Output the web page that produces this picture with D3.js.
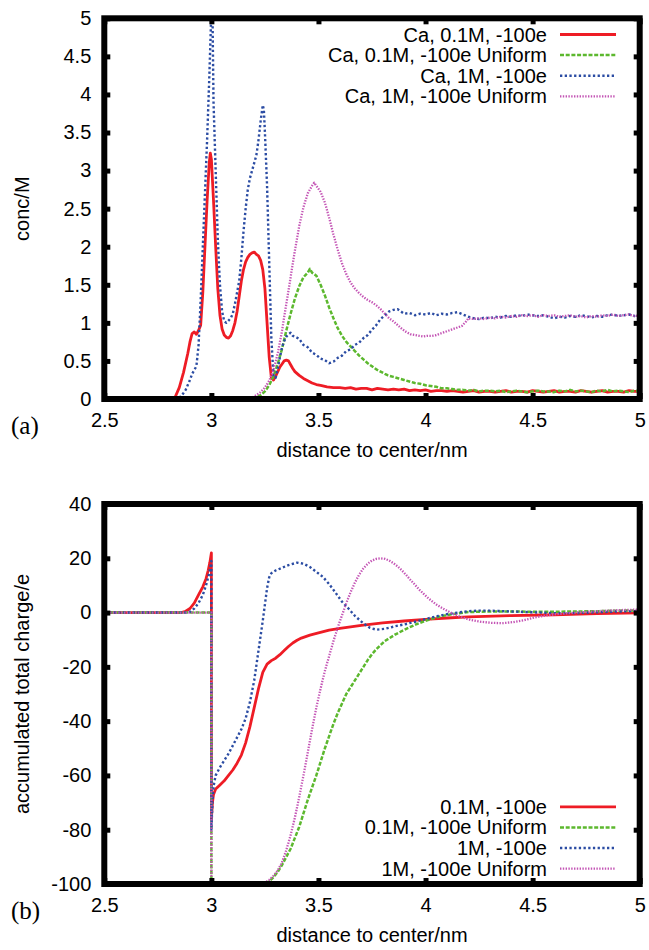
<!DOCTYPE html>
<html>
<head>
<meta charset="utf-8">
<script src="https://cdn.jsdelivr.net/npm/d3@7"></script>
<style>
  body { margin: 0; background: #fff; }
  svg text { font-family: "Liberation Sans", Arial, Helvetica, sans-serif; font-size: 20px; fill: #000; }
</style>
</head>
<body>
<div id="chart"></div>
<script>
// ---- data ----
const xTicks = [2.5, 3, 3.5, 4, 4.5, 5]
const concTicks = [0, 0.5, 1, 1.5, 2, 2.5, 3, 3.5, 4, 4.5, 5]
const chargeTicks = [-100, -80, -60, -40, -20, 0, 20, 40]

const concLabels = ["Ca, 0.1M, -100e", "Ca, 0.1M, -100e Uniform", "Ca, 1M, -100e", "Ca, 1M, -100e Uniform"]
const chargeLabels = ["0.1M, -100e", "0.1M, -100e Uniform", "1M, -100e", "1M, -100e Uniform"]

// (a) concentration profiles, [distance nm, conc M]
const concLow = [[2.5,0],[2.81,0],[2.83,0.02],[2.85,0.15],[2.87,0.35],[2.89,0.6],[2.9,0.75],[2.91,0.86],[2.92,0.88],[2.93,0.85],[2.94,0.9],[2.95,0.97],
  [2.96,1.4],[2.97,2.0],[2.98,2.6],[2.99,3.1],[2.995,3.23],[3.0,3.15],[3.01,2.6],[3.02,2.0],[3.03,1.45],[3.04,1.1],[3.05,0.92],[3.06,0.84],[3.07,0.81],
  [3.08,0.8],[3.09,0.83],[3.1,0.9],[3.11,1.0],[3.12,1.15],[3.13,1.35],[3.14,1.55],[3.15,1.7],[3.16,1.8],[3.17,1.86],[3.18,1.9],[3.19,1.92],[3.2,1.93],
  [3.21,1.9],[3.22,1.88],[3.23,1.82],[3.24,1.7],[3.25,1.45],[3.26,1.0],[3.27,0.55],[3.28,0.28],[3.29,0.25],[3.3,0.3],[3.31,0.36],[3.32,0.42],[3.33,0.46],
  [3.34,0.5],[3.35,0.51],[3.36,0.5],[3.37,0.45],[3.38,0.4],[3.39,0.36],[3.41,0.31],[3.43,0.27],[3.45,0.24],[3.47,0.21],[3.49,0.19],[3.51,0.18],[3.54,0.16],
  [3.57,0.15],[3.6,0.15],[3.625,0.14],[3.65,0.15],[3.675,0.13],[3.7,0.14],[3.725,0.14],[3.75,0.12],[3.775,0.14],[3.8,0.13],[3.825,0.12],[3.85,0.13],
  [3.875,0.12],[3.9,0.13],[3.925,0.11],[3.95,0.12],[3.975,0.11],[4.0,0.12],[4.025,0.1],[4.05,0.11],[4.075,0.11],[4.1,0.1],[4.125,0.11],[4.15,0.1],
  [4.175,0.09],[4.2,0.1],[4.225,0.11],[4.25,0.09],[4.275,0.1],[4.3,0.1],[4.325,0.09],[4.35,0.1],[4.375,0.11],[4.4,0.09],[4.425,0.1],[4.45,0.1],
  [4.475,0.09],[4.5,0.11],[4.525,0.1],[4.55,0.09],[4.575,0.1],[4.6,0.11],[4.625,0.09],[4.65,0.1],[4.675,0.1],[4.7,0.09],[4.725,0.11],[4.75,0.1],
  [4.775,0.09],[4.8,0.1],[4.825,0.11],[4.85,0.09],[4.875,0.1],[4.9,0.1],[4.925,0.09],[4.95,0.11],[4.975,0.1],[5.0,0.1]]

const concLowUniform = [[2.5,0],[3.19,0],[3.21,0.02],[3.23,0.05],[3.25,0.1],[3.27,0.18],[3.29,0.3],[3.31,0.46],[3.33,0.66],[3.35,0.9],[3.37,1.12],
  [3.39,1.32],[3.41,1.48],[3.43,1.6],[3.45,1.66],[3.46,1.71],[3.47,1.66],[3.49,1.62],[3.51,1.5],[3.53,1.36],[3.55,1.2],[3.57,1.06],[3.59,0.93],
  [3.61,0.83],[3.63,0.75],[3.65,0.69],[3.67,0.63],[3.69,0.57],[3.71,0.52],[3.73,0.47],[3.75,0.43],[3.77,0.39],[3.79,0.36],[3.81,0.33],[3.825,0.31],
  [3.85,0.29],[3.875,0.27],[3.9,0.25],[3.925,0.23],[3.95,0.21],[3.975,0.2],[4.0,0.18],[4.025,0.17],[4.05,0.16],[4.075,0.14],[4.1,0.14],[4.125,0.13],
  [4.15,0.12],[4.175,0.12],[4.2,0.11],[4.225,0.12],[4.25,0.1],[4.275,0.11],[4.3,0.11],[4.325,0.1],[4.35,0.11],[4.375,0.09],[4.4,0.1],[4.425,0.11],
  [4.45,0.1],[4.475,0.09],[4.5,0.1],[4.525,0.11],[4.55,0.1],[4.575,0.1],[4.6,0.09],[4.625,0.11],[4.65,0.1],[4.675,0.12],[4.7,0.1],[4.725,0.11],
  [4.75,0.1],[4.775,0.09],[4.8,0.11],[4.825,0.1],[4.85,0.12],[4.875,0.1],[4.9,0.11],[4.925,0.1],[4.95,0.09],[4.975,0.11],[5.0,0.1]]

const concHigh = [[2.5,0],[2.84,0],[2.86,0.04],[2.88,0.12],[2.9,0.25],[2.91,0.33],[2.92,0.38],[2.93,0.43],[2.94,0.7],[2.95,1.3],[2.96,2.0],[2.97,2.7],
  [2.98,3.4],[2.99,4.2],[3.0,5.1],[3.005,5.1],[3.01,3.9],[3.02,3.0],[3.03,2.1],[3.04,1.5],[3.05,1.15],[3.06,1.02],[3.07,1.0],[3.08,1.03],[3.09,1.06],
  [3.1,1.12],[3.11,1.25],[3.12,1.4],[3.13,1.55],[3.14,1.85],[3.15,2.2],[3.16,2.5],[3.17,2.75],[3.18,2.9],[3.19,3.0],[3.2,3.1],[3.21,3.2],[3.22,3.4],
  [3.23,3.65],[3.24,3.86],[3.245,3.8],[3.25,3.5],[3.26,2.8],[3.27,1.8],[3.28,0.8],[3.29,0.3],[3.3,0.28],[3.31,0.4],[3.32,0.55],[3.33,0.68],[3.34,0.76],
  [3.35,0.82],[3.36,0.85],[3.37,0.87],[3.38,0.83],[3.39,0.82],[3.41,0.79],[3.43,0.71],[3.45,0.68],[3.47,0.61],[3.49,0.58],[3.51,0.53],[3.53,0.51],
  [3.55,0.47],[3.57,0.49],[3.59,0.54],[3.61,0.57],[3.63,0.63],[3.65,0.65],[3.67,0.71],[3.69,0.74],[3.71,0.8],[3.73,0.84],[3.75,0.91],[3.77,0.97],
  [3.79,1.05],[3.81,1.1],[3.83,1.15],[3.85,1.17],[3.87,1.18],[3.89,1.14],[3.9,1.12],[3.925,1.13],[3.95,1.1],[3.975,1.12],[4.0,1.11],[4.025,1.13],
  [4.05,1.1],[4.075,1.12],[4.1,1.11],[4.125,1.13],[4.15,1.14],[4.175,1.11],[4.2,1.08],[4.225,1.06],[4.25,1.05],[4.275,1.07],[4.3,1.06],[4.325,1.08],
  [4.35,1.07],[4.375,1.09],[4.4,1.08],[4.425,1.1],[4.45,1.09],[4.475,1.11],[4.5,1.1],[4.525,1.09],[4.55,1.1],[4.575,1.08],[4.6,1.06],[4.625,1.08],
  [4.65,1.07],[4.675,1.09],[4.7,1.08],[4.725,1.1],[4.75,1.09],[4.775,1.07],[4.8,1.09],[4.825,1.08],[4.85,1.1],[4.875,1.11],[4.9,1.09],[4.925,1.1],
  [4.95,1.11],[4.975,1.09],[5.0,1.1]]

const concHighUniform = [[2.5,0],[3.17,0],[3.19,0.02],[3.21,0.05],[3.23,0.09],[3.25,0.15],[3.27,0.24],[3.29,0.38],[3.31,0.6],[3.33,0.9],[3.35,1.25],
  [3.37,1.6],[3.39,1.95],[3.41,2.27],[3.43,2.52],[3.45,2.7],[3.47,2.8],[3.48,2.84],[3.49,2.8],[3.51,2.72],[3.53,2.58],[3.55,2.38],[3.57,2.16],
  [3.59,1.96],[3.61,1.78],[3.63,1.64],[3.65,1.53],[3.67,1.45],[3.69,1.39],[3.71,1.34],[3.73,1.3],[3.75,1.27],[3.77,1.23],[3.79,1.18],[3.81,1.12],
  [3.83,1.06],[3.85,1.02],[3.87,0.97],[3.89,0.92],[3.91,0.88],[3.93,0.85],[3.95,0.84],[3.97,0.83],[3.99,0.82],[4.01,0.83],[4.03,0.83],[4.05,0.84],
  [4.07,0.86],[4.09,0.88],[4.11,0.9],[4.13,0.92],[4.15,0.94],[4.17,0.96],[4.19,1.02],[4.2,1.06],[4.225,1.05],[4.25,1.06],[4.275,1.05],[4.3,1.07],
  [4.325,1.06],[4.35,1.08],[4.375,1.07],[4.4,1.09],[4.425,1.08],[4.45,1.1],[4.475,1.09],[4.5,1.1],[4.525,1.08],[4.55,1.1],[4.575,1.09],[4.6,1.1],
  [4.625,1.08],[4.65,1.09],[4.675,1.1],[4.7,1.08],[4.725,1.09],[4.75,1.07],[4.775,1.09],[4.8,1.08],[4.825,1.1],[4.85,1.09],[4.875,1.11],[4.9,1.09],
  [4.925,1.1],[4.95,1.11],[4.975,1.09],[5.0,1.1]]

// (b) accumulated total charge, [distance nm, charge e]
const chargeLow = [[2.5,0],[2.86,0],[2.88,0.5],[2.9,1.5],[2.92,3.5],[2.94,6.5],[2.96,9.5],[2.975,12.5],[2.985,15.5],[2.993,18.5],[3.0,22],[3.0,-76],
  [3.005,-70],[3.01,-67],[3.02,-65],[3.04,-63.5],[3.06,-62],[3.08,-60],[3.1,-58],[3.12,-55.5],[3.14,-52.5],[3.16,-48],[3.18,-42],[3.2,-35],[3.22,-28],
  [3.24,-22],[3.26,-19],[3.28,-17.7],[3.3,-16.8],[3.32,-15.5],[3.34,-14],[3.36,-12.5],[3.38,-11.2],[3.4,-10.2],[3.42,-9.4],[3.46,-8.3],[3.5,-7.5],
  [3.55,-6.5],[3.6,-5.8],[3.7,-4.7],[3.8,-3.8],[3.9,-3.1],[4.0,-2.5],[4.1,-2.0],[4.2,-1.6],[4.4,-1.1],[4.6,-0.8],[4.8,-0.4],[5.0,-0.1]]

const chargeLowUniform = [[2.5,0],[3.0,0],[3.0,-100],[3.25,-100],[3.27,-99],[3.29,-97.5],[3.31,-95.5],[3.33,-93],[3.35,-90],[3.37,-87],[3.39,-83],
  [3.41,-79],[3.43,-74],[3.45,-69],[3.47,-64.5],[3.49,-60],[3.51,-55],[3.53,-50],[3.55,-45.5],[3.57,-41],[3.59,-37],[3.61,-33.5],[3.63,-30],
  [3.65,-27.5],[3.67,-25],[3.69,-22.5],[3.71,-20],[3.73,-17.5],[3.75,-15.3],[3.77,-13.5],[3.79,-12],[3.81,-10.5],[3.86,-8],[3.91,-6],[3.96,-4.2],
  [4.0,-3],[4.05,-1.8],[4.1,-0.9],[4.15,-0.3],[4.2,0.2],[4.3,0.4],[4.4,0.4],[4.5,0.3],[4.6,0.3],[4.7,0.4],[4.8,0.5],[4.9,0.7],[5.0,0.8]]

const chargeHigh = [[2.5,0],[2.88,0],[2.9,0.3],[2.92,1.5],[2.94,3.5],[2.96,6.5],[2.975,10],[2.99,14.5],[3.0,19],[3.0,-80],[3.005,-70],[3.01,-64],
  [3.02,-60],[3.04,-57],[3.06,-54.5],[3.08,-52],[3.1,-49],[3.12,-46],[3.14,-43],[3.16,-39],[3.18,-33],[3.2,-25],[3.22,-14],[3.24,-3],[3.26,9],
  [3.27,13],[3.28,14.5],[3.3,15.5],[3.33,16.5],[3.36,17.5],[3.4,18.4],[3.43,18],[3.46,16.8],[3.49,15],[3.52,13.2],[3.55,10.5],[3.58,7.3],[3.61,4],
  [3.64,1.5],[3.67,-1.2],[3.71,-4],[3.74,-5.6],[3.77,-6.3],[3.81,-6.0],[3.86,-5],[3.91,-4.2],[3.96,-3.2],[4.0,-2.4],[4.05,-1.4],[4.1,-0.6],
  [4.15,0],[4.2,0.5],[4.25,0.7],[4.3,0.7],[4.4,0.4],[4.5,0.1],[4.6,-0.2],[4.7,-0.2],[4.8,0.1],[4.9,0.4],[5.0,0.5]]

const chargeHighUniform = [[2.5,0],[3.0,0],[3.0,-100],[3.23,-100],[3.25,-99.5],[3.27,-98.5],[3.29,-97],[3.31,-95],[3.33,-92],[3.35,-87.5],[3.37,-82],
  [3.39,-75.5],[3.41,-68],[3.43,-60],[3.45,-51.5],[3.47,-43],[3.49,-35],[3.51,-28],[3.53,-21.5],[3.55,-16],[3.57,-10.5],[3.59,-5.5],[3.61,-1],
  [3.63,3.5],[3.65,7.5],[3.67,11],[3.69,14],[3.71,16.3],[3.73,18],[3.75,19.2],[3.77,19.8],[3.79,20],[3.81,19.8],[3.83,19.2],[3.85,18.2],[3.87,17],
  [3.89,15.5],[3.91,13.8],[3.93,12],[3.95,10.3],[3.97,8.5],[3.99,7],[4.01,5.5],[4.03,4.2],[4.05,3],[4.07,2],[4.09,1.1],[4.11,0.3],[4.13,-0.5],
  [4.16,-1.5],[4.21,-2.7],[4.26,-3.4],[4.31,-3.8],[4.36,-3.9],[4.41,-3.5],[4.46,-2.8],[4.51,-1.8],[4.56,-1.1],[4.61,-0.6],[4.7,0],[4.8,0.5],
  [4.9,0.9],[5.0,1.1]]

// ---- line styles (gnuplot-like) ----
const lineStyles = [
  { color: "#ee1c25", width: 2.8, dash: null },
  { color: "#5cb82e", width: 2.5, dash: "4,1.7" },
  { color: "#2b4ca3", width: 2.4, dash: "2.3,2.4" },
  { color: "#c455b5", width: 2.3, dash: "1.4,1.4" }
]

const svgWidth = 649
const svgHeight = 950

let svg = d3.select("#chart")
  .append("svg")
  .attr("width", svgWidth)
  .attr("height", svgHeight)

function drawPanel(cfg) {
  let x = d3.scaleLinear().domain([2.5, 5]).range([104.3, 639.7])
  let y = d3.scaleLinear().domain(cfg.yDomain).range([cfg.bottom, cfg.top])

  let g = svg.append("g")

  g.append("clipPath")
    .attr("id", cfg.id)
    .append("rect")
    .attr("x", x(2.5))
    .attr("y", cfg.top)
    .attr("width", x(5) - x(2.5))
    .attr("height", cfg.bottom - cfg.top)

  let line = d3.line()
    .x(d => x(d[0]))
    .y(d => y(d[1]))

  let lines = g.append("g").attr("clip-path", `url(#${cfg.id})`)
  cfg.series.forEach((s, i) => {
    lines.append("path")
      .datum(s)
      .attr("d", line)
      .attr("fill", "none")
      .attr("stroke", lineStyles[i].color)
      .attr("stroke-width", lineStyles[i].width)
      .attr("stroke-dasharray", lineStyles[i].dash)
      .attr("stroke-linejoin", "round")
  })

  // frame
  g.append("rect")
    .attr("x", x(2.5))
    .attr("y", cfg.top)
    .attr("width", x(5) - x(2.5))
    .attr("height", cfg.bottom - cfg.top)
    .attr("fill", "none")
    .attr("stroke", "#000")
    .attr("stroke-width", 6)

  // axes, ticks pointing inward; plain hyphen for negatives like the original
  let fmt = d => String(d)
  let axes = [
    { ax: d3.axisBottom(x).tickValues(xTicks).tickFormat(fmt).tickPadding(14), at: `translate(0,${cfg.bottom})` },
    { ax: d3.axisTop(x).tickValues(xTicks).tickFormat(""), at: `translate(0,${cfg.top})` },
    { ax: d3.axisLeft(y).tickValues(cfg.yTicks).tickFormat(fmt).tickPadding(13), at: `translate(${x(2.5)},0)` },
    { ax: d3.axisRight(y).tickValues(cfg.yTicks).tickFormat(""), at: `translate(${x(5)},0)` }
  ]
  axes.forEach(a => {
    let ag = g.append("g")
      .attr("transform", a.at)
      .call(a.ax.tickSizeInner(-6).tickSizeOuter(0))
    ag.select(".domain").remove()
    ag.selectAll(".tick line").attr("stroke", "#000").attr("stroke-width", 5)
    ag.attr("font-family", null).attr("font-size", null)
    ag.selectAll("text").attr("fill", "#000")
  })

  // axis titles
  g.append("text")
    .attr("x", (x(2.5) + x(5)) / 2)
    .attr("y", cfg.bottom + 58)
    .attr("text-anchor", "middle")
    .text("distance to center/nm")

  g.append("text")
    .attr("transform", `translate(28.5, ${(cfg.top + cfg.bottom) / 2}) rotate(-90)`)
    .attr("text-anchor", "middle")
    .text(cfg.yLabel)

  g.append("text")
    .attr("x", 11)
    .attr("y", cfg.bottom + 35)
    .style("font-family", "'Liberation Serif', 'Times New Roman', serif")
    .style("font-size", "25px")
    .text(cfg.tag)

  // legend
  let legend = g.append("g")
  cfg.labels.forEach((lab, i) => {
    let ly = cfg.legendTop + i * 20.6
    legend.append("text")
      .attr("x", 547)
      .attr("y", ly)
      .attr("dy", "0.35em")
      .attr("text-anchor", "end")
      .text(lab)
    legend.append("line")
      .attr("x1", 560)
      .attr("x2", 616)
      .attr("y1", ly)
      .attr("y2", ly)
      .attr("stroke", lineStyles[i].color)
      .attr("stroke-width", lineStyles[i].width)
      .attr("stroke-dasharray", lineStyles[i].dash)
  })
}

drawPanel({
  id: "clipA",
  top: 18.3,
  bottom: 399,
  yDomain: [0, 5],
  yTicks: concTicks,
  yLabel: "conc/M",
  tag: "(a)",
  labels: concLabels,
  legendTop: 34.5,
  series: [concLow, concLowUniform, concHigh, concHighUniform]
})

drawPanel({
  id: "clipB",
  top: 504,
  bottom: 884,
  yDomain: [-100, 40],
  yTicks: chargeTicks,
  yLabel: "accumulated total charge/e",
  tag: "(b)",
  labels: chargeLabels,
  legendTop: 806.8,
  series: [chargeLow, chargeLowUniform, chargeHigh, chargeHighUniform]
})
</script>
</body>
</html>
